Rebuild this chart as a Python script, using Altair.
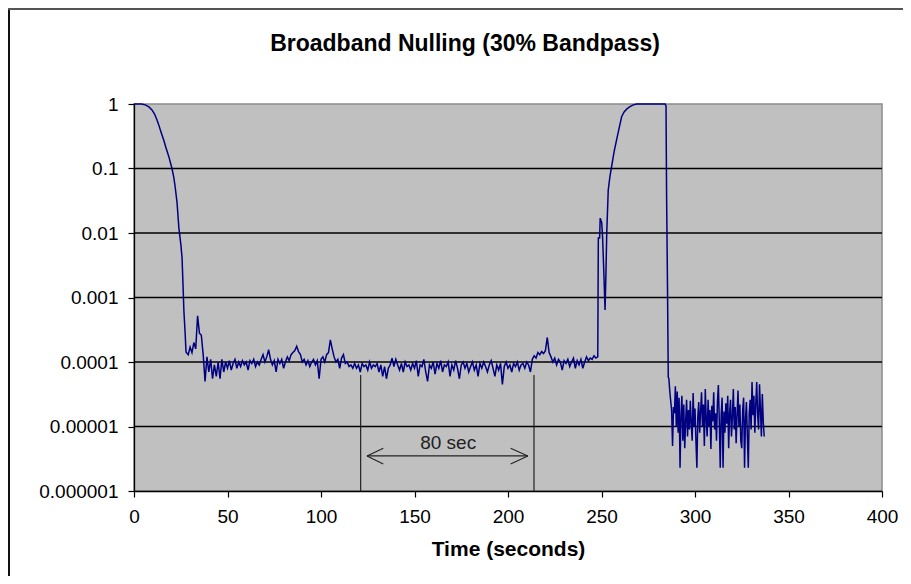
import altair as alt
import pandas as pd

# ---- data ----
chart_title = ["Broadband Nulling (30% Bandpass)"]

# initial roll-off (time s, relative intensity)
ramp_t = [0, 2, 4, 6, 8, 9.6, 11, 12.3, 13.5, 14.4, 16, 17.1, 18.7, 20.3, 21.2, 21.9,
          23, 24, 25.1, 25.7, 26.2, 26.7, 27.3, 27.8]
ramp_v = [1.0, 1.0, 1.0, 0.97, 0.9, 0.81, 0.7, 0.565, 0.45, 0.37, 0.27, 0.21, 0.15, 0.1,
          0.075, 0.055, 0.03, 0.012, 0.0065, 0.0041, 0.0016, 0.0006, 0.0003, 0.000144]

# nulled plateau, 1 s steps starting at 28 s, in units of 1e-4
plateau_start = 28
plateau_e4 = [
    1.4, 1.3, 1.7, 1.4, 2.0, 1.6, 5.2, 2.8, 2.6, 1.3,
    0.5, 1.2, 0.7, 1.1, 0.55, 0.9, 0.6, 1.0, 0.55, 1.1,
    0.7, 1.0, 0.8, 1.05, 0.75, 0.95, 1.1, 0.8, 1.0, 0.85,
    1.05, 0.9, 1.0, 0.75, 1.05, 0.95, 1.1, 0.85, 1.0, 0.9,
    1.1, 1.3, 1.0, 1.2, 1.55, 1.1, 0.9, 1.05, 0.7, 1.1,
    0.95, 1.1, 0.8, 1.0, 1.2, 1.05, 1.3, 1.4, 1.5, 1.75,
    1.45, 1.3, 1.0, 1.1, 0.9, 1.05, 0.85, 1.0, 1.1, 0.9,
    1.05, 0.55, 1.1, 1.2, 1.0, 1.3, 1.4, 2.2, 1.6, 1.2,
    1.0, 1.1, 0.8, 1.15, 1.3, 0.95, 1.0, 0.85, 0.9, 0.8,
    0.95, 0.8, 0.9, 0.7, 0.95, 0.85, 0.9, 0.75, 1.0, 0.8,
    0.9, 0.85, 0.95, 0.7, 0.9, 0.6, 0.85, 0.55, 0.8, 0.9,
    1.15, 0.85, 1.1, 0.9, 0.75, 0.95, 0.7, 1.0, 0.85, 0.9,
    0.75, 0.95, 0.8, 1.05, 0.6, 0.9, 0.85, 1.1, 0.7, 0.5,
    0.9, 0.8, 1.0, 0.65, 0.95, 0.8, 1.05, 0.7, 0.9, 0.85,
    1.0, 0.6, 0.9, 0.75, 1.05, 0.8, 0.55, 0.9, 1.0, 0.8,
    0.95, 0.7, 0.85, 1.0, 0.75, 0.9, 0.6, 0.95, 0.8, 1.0,
    0.85, 0.7, 0.9, 1.05, 0.8, 0.6, 0.9, 0.75, 0.95, 0.45,
    0.85, 1.0, 0.8, 0.9, 0.7, 0.95, 0.85, 1.0, 0.75, 0.9,
    0.95, 0.8, 1.0, 0.9, 0.7, 1.1, 1.25, 1.15, 1.4, 1.3,
    1.45, 1.35, 1.5, 2.4, 1.4, 1.2, 1.0, 1.15, 0.9, 1.1,
    1.0, 0.75, 1.05, 0.95, 1.1, 0.85, 1.0, 1.15, 0.8, 1.05,
    0.9, 1.1, 0.8, 1.0, 1.2, 1.05, 1.15, 1.1, 1.25, 1.15,
    1.2,
]

# break-out, bright fringe and second null
trans_t = [248.3, 249.0, 249.3, 250.1, 250.6, 251.3, 251.9, 252.4, 252.8, 253.6, 254.5,
           255.4, 256.7, 258.1, 259.4, 260.8, 262.2, 263.6, 265.2, 267.0, 268.8, 276.0,
           284.0, 284.5, 284.8, 285.3, 285.7]
trans_v = [0.0084, 0.0084, 0.017, 0.0146, 0.0084, 0.0022, 0.00064, 0.0025, 0.0099, 0.046,
           0.075, 0.107, 0.18, 0.28, 0.42, 0.64, 0.76, 0.84, 0.91, 0.97, 1.0, 1.0,
           1.0, 0.93, 0.041, 0.0014, 0.000058]

# deep null, 0.5 s steps starting at 286 s, in units of 1e-5
tail_start = 286.0
tail_e5 = [
    5.6, 3.6, 2.5, 1.8, 0.5, 2.0, 1.6, 4.2, 1.0, 3.5,
    0.8, 2.8, 0.23, 1.5, 3.0, 0.6, 2.2, 0.46, 1.2, 2.6,
    0.7, 1.8, 0.9, 2.5, 1.1, 0.6, 3.3, 1.0, 1.9, 0.6,
    0.23, 1.4, 2.4, 0.8, 1.7, 3.4, 1.0, 2.2, 0.5, 3.8,
    1.3, 0.7, 2.6, 1.0, 1.8, 0.45, 2.1, 1.2, 3.4, 0.9,
    1.6, 0.6, 2.4, 4.4, 1.2, 0.23, 1.5, 2.8, 0.23, 1.7,
    0.8, 2.3, 1.1, 3.0, 0.46, 1.6, 2.6, 0.7, 1.4, 3.8,
    0.9, 2.0, 0.55, 1.5, 3.6, 1.0, 2.2, 0.6, 0.46, 1.8,
    2.8, 0.23, 1.3, 2.4, 0.7, 0.23, 1.6, 2.6, 0.9, 4.9,
    1.5, 3.0, 0.8, 2.2, 4.9, 1.5, 0.9, 4.5, 1.8, 0.7,
    3.2, 1.2, 0.7,
]

grid_decades = [1e-1, 1e-2, 1e-3, 1e-4, 1e-5]
y_ticks = [1e-6, 1e-5, 1e-4, 1e-3, 1e-2, 1e-1, 1]
x_ticks = [0, 50, 100, 150, 200, 250, 300, 350, 400]

# annotation: 80 s window markers, arrow and label
marker_t = [121.2, 213.9]
marker_top = [6.3e-5, 6.3e-5]
marker_bottom = [1e-6, 1e-6]
arrow_t = [124.6, 124.6, 124.6, 210.6, 210.6]
arrow_t2 = [210.6, 133.3, 133.3, 201.4, 201.4]
arrow_v = [3.5e-6, 3.5e-6, 3.5e-6, 3.5e-6, 3.5e-6]
arrow_v2 = [3.5e-6, 4.6e-6, 2.62e-6, 4.6e-6, 2.62e-6]
label_t = [168.0]
label_v = [5.6e-6]
label_text = ["80 sec"]

# ---- build tables ----
t_all = (ramp_t
         + [plateau_start + i for i in range(len(plateau_e4))]
         + trans_t
         + [tail_start + 0.5 * i for i in range(len(tail_e5))])
v_all = (ramp_v
         + [x * 1e-4 for x in plateau_e4]
         + trans_v
         + [x * 1e-5 for x in tail_e5])
df = pd.DataFrame({"t": t_all, "v": v_all, "i": list(range(len(t_all)))})

grid_df = pd.DataFrame({"v": grid_decades})
marker_df = pd.DataFrame({"t": marker_t, "v": marker_top, "v2": marker_bottom})
arrow_df = pd.DataFrame({"t": arrow_t, "t2": arrow_t2, "v": arrow_v, "v2": arrow_v2})
label_df = pd.DataFrame({"t": label_t, "v": label_v, "txt": label_text})
title_df = pd.DataFrame({"txt": chart_title})

FONT = "Arial, Liberation Sans, sans-serif"

xscale = alt.Scale(domain=[0, 400], nice=False, zero=False)
yscale = alt.Scale(type="log", domain=[1e-6, 1], nice=False)

x_axis = alt.Axis(values=x_ticks, grid=False, title="Time (seconds)",
                  titleFont=FONT, titleFontSize=21, titleFontWeight="bold",
                  titleColor="black", titlePadding=12,
                  labelFont=FONT, labelFontSize=19, labelColor="black",
                  labelPadding=10, labelFlush=False, tickColor="black", tickSize=6,
                  domainColor="black", domainWidth=1.3, tickWidth=1.2)
y_axis = alt.Axis(values=y_ticks, format=".6~f", grid=False, title="",
                  labelFont=FONT, labelFontSize=19, labelColor="black",
                  labelPadding=10, labelFlush=False, tickColor="black", tickSize=6,
                  domainColor="black", domainWidth=1.3, tickWidth=1.2)

grid = alt.Chart(grid_df).mark_rule(color="black", strokeWidth=1.3).encode(
    y=alt.Y("v:Q", scale=yscale, axis=y_axis)
)

line = alt.Chart(df).mark_line(color="#000080", strokeWidth=1.5).encode(
    x=alt.X("t:Q", scale=xscale, axis=x_axis),
    y=alt.Y("v:Q", scale=yscale, axis=y_axis),
    order="i:Q",
)

markers = alt.Chart(marker_df).mark_rule(color="#222222", strokeWidth=1.2).encode(
    x=alt.X("t:Q", scale=xscale, axis=x_axis),
    y=alt.Y("v:Q", scale=yscale, axis=y_axis),
    y2="v2:Q",
)

arrow = alt.Chart(arrow_df).mark_rule(color="#222222", strokeWidth=1.1).encode(
    x=alt.X("t:Q", scale=xscale, axis=x_axis),
    x2="t2:Q",
    y=alt.Y("v:Q", scale=yscale, axis=y_axis),
    y2="v2:Q",
)

label = alt.Chart(label_df).mark_text(font=FONT, fontSize=19, color="#222222",
                                      baseline="middle", align="center").encode(
    x=alt.X("t:Q", scale=xscale, axis=x_axis),
    y=alt.Y("v:Q", scale=yscale, axis=y_axis),
    text="txt:N",
)

# chart title, centred on the whole chart frame like the reference
title = alt.Chart(title_df).mark_text(font=FONT, fontSize=23, fontWeight="bold",
                                      color="black", baseline="middle",
                                      align="center").encode(
    x=alt.value(331), y=alt.value(-60), text="txt:N"
)

# outer chart frame (left and top edges visible in the reference)
frame_left = alt.Chart(grid_df).mark_rule(color="#111111", strokeWidth=2).encode(
    x=alt.value(-125), y=alt.value(-96), y2=alt.value(472)
)
frame_top = alt.Chart(grid_df).mark_rule(color="#555555", strokeWidth=2).encode(
    x=alt.value(-126), x2=alt.value(769), y=alt.value(-95)
)

chart = alt.layer(grid, markers, arrow, label, line, title, frame_left, frame_top).properties(
    width=748,
    height=387,
    autosize=alt.AutoSizeParams(type="none"),
    padding={"left": 126, "top": 96, "right": 21, "bottom": 85},
    background="white",
).configure_view(
    fill="#C0C0C0", stroke="#8a8a8a", strokeWidth=1.5
)

chart.save("out.html", embed_options={"renderer": "svg", "actions": False})
